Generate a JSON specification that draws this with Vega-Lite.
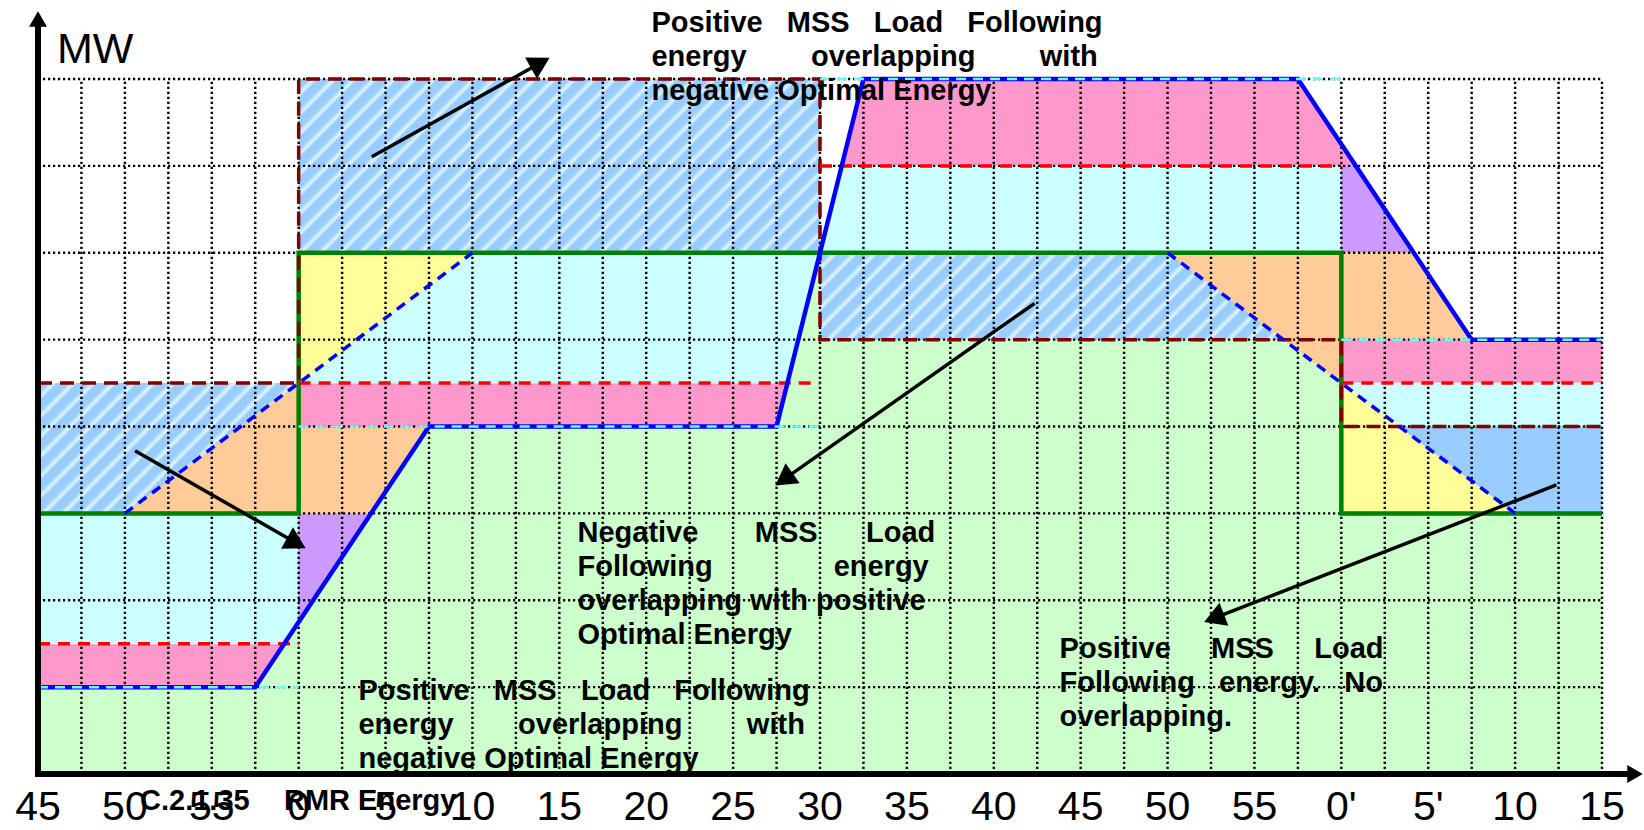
{
"$schema": "https://vega.github.io/schema/vega-lite/v6.json",
"width": 1564,
"height": 695,
"autosize": {"type": "none"},
"padding": {"left": 38, "top": 79, "right": 42, "bottom": 56},
"background": "#ffffff",
"config": {"view": {"stroke": null}},
"datasets": {
"zones": [
{"r":"g","k":"base","c":0,"y":1,"y2":0},{"r":"g","k":"base","c":5,"y":1,"y2":0},{"r":"g","k":"base","c":9,"y":4,"y2":0},{"r":"g","k":"base","c":17,"y":4,"y2":0},{"r":"g","k":"base","c":18,"y":6,"y2":0},{"r":"g","k":"base","c":18.0001,"y":5,"y2":0},{"r":"g","k":"base","c":28.667,"y":5,"y2":0},{"r":"g","k":"base","c":30,"y":4.5,"y2":0},{"r":"g","k":"base","c":30.0001,"y":3,"y2":0},{"r":"g","k":"base","c":36,"y":3,"y2":0},
{"r":"pL","k":"band","c":0,"y":1.5,"y2":1},{"r":"pL","k":"band","c":5,"y":1.5,"y2":1},{"r":"pL","k":"band","c":5.667,"y":1.5,"y2":1.5},
{"r":"cL","k":"gap","c":0,"y":3,"y2":1.5},{"r":"cL","k":"gap","c":5.667,"y":3,"y2":1.5},{"r":"cL","k":"gap","c":6,"y":3,"y2":1.75},
{"r":"vL","k":"deficit","c":6,"y":3,"y2":1.75},{"r":"vL","k":"deficit","c":7.667,"y":3,"y2":3},
{"r":"oL1","k":"overlap","c":2,"y":3,"y2":3},{"r":"oL1","k":"overlap","c":6,"y":4.5,"y2":3},
{"r":"oL2","k":"overlap","c":6,"y":4,"y2":3},{"r":"oL2","k":"overlap","c":7.667,"y":4,"y2":3},{"r":"oL2","k":"overlap","c":9,"y":4,"y2":4},
{"r":"pM","k":"band","c":6,"y":4.5,"y2":4},{"r":"pM","k":"band","c":17,"y":4.5,"y2":4},{"r":"pM","k":"band","c":17.25,"y":4.5,"y2":4.5},
{"r":"cM","k":"gap","c":6,"y":4.5,"y2":4.5},{"r":"cM","k":"gap","c":10,"y":6,"y2":4.5},{"r":"cM","k":"gap","c":17.25,"y":6,"y2":4.5},{"r":"cM","k":"gap","c":18,"y":6,"y2":6},
{"r":"yM","k":"surplus","c":6,"y":6,"y2":4.5},{"r":"yM","k":"surplus","c":10,"y":6,"y2":6},
{"r":"pT","k":"band","c":18.5,"y":7,"y2":7},{"r":"pT","k":"band","c":19,"y":8,"y2":7},{"r":"pT","k":"band","c":29,"y":8,"y2":7},{"r":"pT","k":"band","c":30.333,"y":7,"y2":7},
{"r":"cT","k":"gap","c":18,"y":6,"y2":6},{"r":"cT","k":"gap","c":18.5,"y":7,"y2":6},{"r":"cT","k":"gap","c":30,"y":7,"y2":6},
{"r":"vR","k":"deficit","c":30,"y":7,"y2":6},{"r":"vR","k":"deficit","c":30.333,"y":7,"y2":6},{"r":"vR","k":"deficit","c":31.667,"y":6,"y2":6},
{"r":"oR1","k":"overlap","c":26,"y":6,"y2":6},{"r":"oR1","k":"overlap","c":30,"y":6,"y2":4.5},
{"r":"oR2","k":"overlap","c":30,"y":6,"y2":5},{"r":"oR2","k":"overlap","c":31.667,"y":6,"y2":5},{"r":"oR2","k":"overlap","c":33,"y":5,"y2":5},
{"r":"pR","k":"band","c":30,"y":5,"y2":4.5},{"r":"pR","k":"band","c":36,"y":5,"y2":4.5},
{"r":"cR","k":"gap","c":30,"y":4.5,"y2":4.5},{"r":"cR","k":"gap","c":31.333,"y":4.5,"y2":4},{"r":"cR","k":"gap","c":36,"y":4.5,"y2":4},
{"r":"yR","k":"surplus","c":30,"y":4.5,"y2":3},{"r":"yR","k":"surplus","c":34,"y":3,"y2":3},
{"r":"bR","k":"reserve","c":31.333,"y":4,"y2":4},{"r":"bR","k":"reserve","c":34,"y":4,"y2":3},{"r":"bR","k":"reserve","c":36,"y":4,"y2":3}
],
"lines": [
{"s":"mss","g":"a","i":1,"c":0,"y":1},{"s":"mss","g":"a","i":2,"c":5,"y":1},{"s":"mss","g":"a","i":3,"c":9,"y":4},{"s":"mss","g":"a","i":4,"c":17,"y":4},{"s":"mss","g":"a","i":5,"c":19,"y":8},{"s":"mss","g":"a","i":6,"c":29,"y":8},{"s":"mss","g":"a","i":7,"c":33,"y":5},{"s":"mss","g":"a","i":8,"c":36,"y":5},
{"s":"rmr","g":"a","i":1,"c":0,"y":1},{"s":"rmr","g":"a","i":2,"c":6,"y":1},
{"s":"rmr","g":"b","i":1,"c":6,"y":4},{"s":"rmr","g":"b","i":2,"c":18,"y":4},
{"s":"rmr","g":"c","i":1,"c":18,"y":8},{"s":"rmr","g":"c","i":2,"c":30,"y":8},
{"s":"rmr","g":"d","i":1,"c":30,"y":5},{"s":"rmr","g":"d","i":2,"c":36,"y":5},
{"s":"opt","g":"a","i":1,"c":0,"y":3},{"s":"opt","g":"a","i":2,"c":6,"y":3},{"s":"opt","g":"a","i":3,"c":6,"y":6},{"s":"opt","g":"a","i":4,"c":30,"y":6},{"s":"opt","g":"a","i":5,"c":30,"y":3},{"s":"opt","g":"a","i":6,"c":36,"y":3},
{"s":"ramp","g":"a","i":1,"c":2,"y":3},{"s":"ramp","g":"a","i":2,"c":10,"y":6},
{"s":"ramp","g":"b","i":1,"c":26,"y":6},{"s":"ramp","g":"b","i":2,"c":34,"y":3},
{"s":"upper","g":"a","i":1,"c":0,"y":1.5},{"s":"upper","g":"a","i":2,"c":6,"y":1.5},
{"s":"upper","g":"b","i":1,"c":6,"y":4.5},{"s":"upper","g":"b","i":2,"c":18,"y":4.5},
{"s":"upper","g":"c","i":1,"c":18,"y":7},{"s":"upper","g":"c","i":2,"c":30,"y":7},
{"s":"upper","g":"d","i":1,"c":30,"y":4.5},{"s":"upper","g":"d","i":2,"c":36,"y":4.5},
{"s":"limit","g":"a","i":1,"c":0,"y":4.5},{"s":"limit","g":"a","i":2,"c":6,"y":4.5},{"s":"limit","g":"a","i":3,"c":6,"y":8},{"s":"limit","g":"a","i":4,"c":18,"y":8},{"s":"limit","g":"a","i":5,"c":18,"y":5},{"s":"limit","g":"a","i":6,"c":30,"y":5},{"s":"limit","g":"a","i":7,"c":30,"y":4},{"s":"limit","g":"a","i":8,"c":36,"y":4}
],
"gv": [{"c":1},{"c":2},{"c":3},{"c":4},{"c":5},{"c":6},{"c":7},{"c":8},{"c":9},{"c":10},{"c":11},{"c":12},{"c":13},{"c":14},{"c":15},{"c":16},{"c":17},{"c":18},{"c":19},{"c":20},{"c":21},{"c":22},{"c":23},{"c":24},{"c":25},{"c":26},{"c":27},{"c":28},{"c":29},{"c":30},{"c":31},{"c":32},{"c":33},{"c":34},{"c":35},{"c":36}],
"gh": [{"y":1},{"y":2},{"y":3},{"y":4},{"y":5},{"y":6},{"y":7},{"y":8}],
"ticks": [{"t":"45","c":0},{"t":"50","c":2},{"t":"55","c":4},{"t":"0","c":6},{"t":"5","c":8},{"t":"10","c":10},{"t":"15","c":12},{"t":"20","c":14},{"t":"25","c":16},{"t":"30","c":18},{"t":"35","c":20},{"t":"40","c":22},{"t":"45","c":24},{"t":"50","c":26},{"t":"55","c":28},{"t":"0'","c":30},{"t":"5'","c":32},{"t":"10","c":34},{"t":"15","c":36}],
"arrows": [{"c":7.683,"y":7.106,"c2":11.562,"y2":8.185},{"c":2.233,"y":3.721,"c2":5.946,"y2":2.658},{"c":22.94,"y":5.418,"c2":17.17,"y2":3.392},{"c":34.95,"y":3.327,"c2":27.07,"y2":1.795}],
"notes": [
{"t":"Positive\u00a0\u00a0\u00a0MSS\u00a0\u00a0\u00a0Load\u00a0\u00a0\u00a0Following\nenergy\u00a0\u00a0\u00a0\u00a0\u00a0\u00a0\u00a0\u00a0overlapping\u00a0\u00a0\u00a0\u00a0\u00a0\u00a0\u00a0\u00a0with\nnegative Optimal Energy","c":14.12,"y":8.545},
{"t":"Positive\u00a0\u00a0\u00a0MSS\u00a0\u00a0\u00a0Load\u00a0\u00a0\u00a0Following\nenergy\u00a0\u00a0\u00a0\u00a0\u00a0\u00a0\u00a0\u00a0overlapping\u00a0\u00a0\u00a0\u00a0\u00a0\u00a0\u00a0\u00a0with\nnegative Optimal Energy","c":7.377,"y":0.852},
{"t":"Negative\u00a0\u00a0\u00a0\u00a0\u00a0\u00a0\u00a0MSS\u00a0\u00a0\u00a0\u00a0\u00a0\u00a0Load\nFollowing\u00a0\u00a0\u00a0\u00a0\u00a0\u00a0\u00a0\u00a0\u00a0\u00a0\u00a0\u00a0\u00a0\u00a0\u00a0energy\noverlapping with positive\nOptimal Energy","c":12.418,"y":2.674},
{"t":"Positive\u00a0\u00a0\u00a0\u00a0\u00a0MSS\u00a0\u00a0\u00a0\u00a0\u00a0Load\nFollowing\u00a0\u00a0\u00a0energy.\u00a0\u00a0\u00a0No\noverlapping.","c":23.515,"y":1.332},
{"t":"C.2.1.35","c":2.348,"y":-0.414},
{"t":"RMR Energy","c":5.662,"y":-0.414}
]
},
"layer": [
{"data":{"name":"zones"},
 "mark":{"type":"area","strokeWidth":1,"opacity":1},
 "encoding":{
  "x":{"field":"c","type":"quantitative","scale":{"domain":[0,36],"nice":false,"zero":false},"axis":null},
  "y":{"field":"y","type":"quantitative","scale":{"domain":[0,8],"nice":false,"zero":false},"axis":null,"stack":null},
  "y2":{"field":"y2"},
  "color":{"field":"k","type":"nominal","scale":{"domain":["base","band","gap","overlap","surplus","deficit","reserve"],"range":["#ccffcc","#ff99cc","#ccffff","#ffcc99","#ffff99","#cc99ff","#99ccff"]},"legend":null},
  "stroke":{"field":"k","type":"nominal","scale":{"domain":["base","band","gap","overlap","surplus","deficit","reserve"],"range":["#ccffcc","#ff99cc","#ccffff","#ffcc99","#ffff99","#cc99ff","#99ccff"]},"legend":null},
  "detail":{"field":"r"}
 }},
{"data":{"values":[{"c":0,"y":4.5,"y2":3},{"c":2,"y":4.5,"y2":3},{"c":6,"y":4.5,"y2":4.5}]},
 "mark":{"type":"area","opacity":1,"fill":{"gradient":"linear","x1":0,"y1":0,"x2":2.148,"y2":1.0738,"stops":[{"offset":0,"color":"#9cf"},{"offset":0.0143,"color":"#9cf"},{"offset":0.0229,"color":"#e0f6ff"},{"offset":0.0286,"color":"#9cf"},{"offset":0.0429,"color":"#9cf"},{"offset":0.0514,"color":"#e0f6ff"},{"offset":0.0571,"color":"#9cf"},{"offset":0.0714,"color":"#9cf"},{"offset":0.08,"color":"#e0f6ff"},{"offset":0.0857,"color":"#9cf"},{"offset":0.1,"color":"#9cf"},{"offset":0.1086,"color":"#e0f6ff"},{"offset":0.1143,"color":"#9cf"},{"offset":0.1286,"color":"#9cf"},{"offset":0.1371,"color":"#e0f6ff"},{"offset":0.1429,"color":"#9cf"},{"offset":0.1571,"color":"#9cf"},{"offset":0.1657,"color":"#e0f6ff"},{"offset":0.1714,"color":"#9cf"},{"offset":0.1857,"color":"#9cf"},{"offset":0.1943,"color":"#e0f6ff"},{"offset":0.2,"color":"#9cf"},{"offset":0.2143,"color":"#9cf"},{"offset":0.2229,"color":"#e0f6ff"},{"offset":0.2286,"color":"#9cf"},{"offset":0.2429,"color":"#9cf"},{"offset":0.2514,"color":"#e0f6ff"},{"offset":0.2571,"color":"#9cf"},{"offset":0.2714,"color":"#9cf"},{"offset":0.28,"color":"#e0f6ff"},{"offset":0.2857,"color":"#9cf"},{"offset":0.3,"color":"#9cf"},{"offset":0.3086,"color":"#e0f6ff"},{"offset":0.3143,"color":"#9cf"},{"offset":0.3286,"color":"#9cf"},{"offset":0.3371,"color":"#e0f6ff"},{"offset":0.3429,"color":"#9cf"},{"offset":0.3571,"color":"#9cf"},{"offset":0.3657,"color":"#e0f6ff"},{"offset":0.3714,"color":"#9cf"},{"offset":0.3857,"color":"#9cf"},{"offset":0.3943,"color":"#e0f6ff"},{"offset":0.4,"color":"#9cf"},{"offset":0.4143,"color":"#9cf"},{"offset":0.4229,"color":"#e0f6ff"},{"offset":0.4286,"color":"#9cf"},{"offset":0.4429,"color":"#9cf"},{"offset":0.4514,"color":"#e0f6ff"},{"offset":0.4571,"color":"#9cf"},{"offset":0.4714,"color":"#9cf"},{"offset":0.48,"color":"#e0f6ff"},{"offset":0.4857,"color":"#9cf"},{"offset":0.5,"color":"#9cf"},{"offset":0.5086,"color":"#e0f6ff"},{"offset":0.5143,"color":"#9cf"},{"offset":0.5286,"color":"#9cf"},{"offset":0.5371,"color":"#e0f6ff"},{"offset":0.5429,"color":"#9cf"},{"offset":0.5571,"color":"#9cf"},{"offset":0.5657,"color":"#e0f6ff"},{"offset":0.5714,"color":"#9cf"},{"offset":0.5857,"color":"#9cf"},{"offset":0.5943,"color":"#e0f6ff"},{"offset":0.6,"color":"#9cf"},{"offset":0.6143,"color":"#9cf"},{"offset":0.6229,"color":"#e0f6ff"},{"offset":0.6286,"color":"#9cf"},{"offset":0.6429,"color":"#9cf"},{"offset":0.6514,"color":"#e0f6ff"},{"offset":0.6571,"color":"#9cf"},{"offset":0.6714,"color":"#9cf"},{"offset":0.68,"color":"#e0f6ff"},{"offset":0.6857,"color":"#9cf"},{"offset":0.7,"color":"#9cf"},{"offset":0.7086,"color":"#e0f6ff"},{"offset":0.7143,"color":"#9cf"},{"offset":0.7286,"color":"#9cf"},{"offset":0.7371,"color":"#e0f6ff"},{"offset":0.7429,"color":"#9cf"},{"offset":0.7571,"color":"#9cf"},{"offset":0.7657,"color":"#e0f6ff"},{"offset":0.7714,"color":"#9cf"},{"offset":0.7857,"color":"#9cf"},{"offset":0.7943,"color":"#e0f6ff"},{"offset":0.8,"color":"#9cf"},{"offset":0.8143,"color":"#9cf"},{"offset":0.8229,"color":"#e0f6ff"},{"offset":0.8286,"color":"#9cf"},{"offset":0.8429,"color":"#9cf"},{"offset":0.8514,"color":"#e0f6ff"},{"offset":0.8571,"color":"#9cf"},{"offset":0.8714,"color":"#9cf"},{"offset":0.88,"color":"#e0f6ff"},{"offset":0.8857,"color":"#9cf"},{"offset":0.9,"color":"#9cf"},{"offset":0.9086,"color":"#e0f6ff"},{"offset":0.9143,"color":"#9cf"},{"offset":0.9286,"color":"#9cf"},{"offset":0.9371,"color":"#e0f6ff"},{"offset":0.9429,"color":"#9cf"},{"offset":0.9571,"color":"#9cf"},{"offset":0.9657,"color":"#e0f6ff"},{"offset":0.9714,"color":"#9cf"},{"offset":0.9857,"color":"#9cf"},{"offset":0.9943,"color":"#e0f6ff"},{"offset":1,"color":"#9cf"}]}},
 "encoding":{"x":{"field":"c","type":"quantitative","axis":null},"y":{"field":"y","type":"quantitative","axis":null},"y2":{"field":"y2"}}},
{"data":{"values":[{"c":6,"y":8,"y2":6},{"c":18,"y":8,"y2":6}]},
 "mark":{"type":"area","opacity":1,"fill":{"gradient":"linear","x1":0,"y1":0,"x2":1.2085,"y2":0.4028,"stops":[{"offset":0,"color":"#9cf"},{"offset":0.0143,"color":"#9cf"},{"offset":0.0229,"color":"#e0f6ff"},{"offset":0.0286,"color":"#9cf"},{"offset":0.0429,"color":"#9cf"},{"offset":0.0514,"color":"#e0f6ff"},{"offset":0.0571,"color":"#9cf"},{"offset":0.0714,"color":"#9cf"},{"offset":0.08,"color":"#e0f6ff"},{"offset":0.0857,"color":"#9cf"},{"offset":0.1,"color":"#9cf"},{"offset":0.1086,"color":"#e0f6ff"},{"offset":0.1143,"color":"#9cf"},{"offset":0.1286,"color":"#9cf"},{"offset":0.1371,"color":"#e0f6ff"},{"offset":0.1429,"color":"#9cf"},{"offset":0.1571,"color":"#9cf"},{"offset":0.1657,"color":"#e0f6ff"},{"offset":0.1714,"color":"#9cf"},{"offset":0.1857,"color":"#9cf"},{"offset":0.1943,"color":"#e0f6ff"},{"offset":0.2,"color":"#9cf"},{"offset":0.2143,"color":"#9cf"},{"offset":0.2229,"color":"#e0f6ff"},{"offset":0.2286,"color":"#9cf"},{"offset":0.2429,"color":"#9cf"},{"offset":0.2514,"color":"#e0f6ff"},{"offset":0.2571,"color":"#9cf"},{"offset":0.2714,"color":"#9cf"},{"offset":0.28,"color":"#e0f6ff"},{"offset":0.2857,"color":"#9cf"},{"offset":0.3,"color":"#9cf"},{"offset":0.3086,"color":"#e0f6ff"},{"offset":0.3143,"color":"#9cf"},{"offset":0.3286,"color":"#9cf"},{"offset":0.3371,"color":"#e0f6ff"},{"offset":0.3429,"color":"#9cf"},{"offset":0.3571,"color":"#9cf"},{"offset":0.3657,"color":"#e0f6ff"},{"offset":0.3714,"color":"#9cf"},{"offset":0.3857,"color":"#9cf"},{"offset":0.3943,"color":"#e0f6ff"},{"offset":0.4,"color":"#9cf"},{"offset":0.4143,"color":"#9cf"},{"offset":0.4229,"color":"#e0f6ff"},{"offset":0.4286,"color":"#9cf"},{"offset":0.4429,"color":"#9cf"},{"offset":0.4514,"color":"#e0f6ff"},{"offset":0.4571,"color":"#9cf"},{"offset":0.4714,"color":"#9cf"},{"offset":0.48,"color":"#e0f6ff"},{"offset":0.4857,"color":"#9cf"},{"offset":0.5,"color":"#9cf"},{"offset":0.5086,"color":"#e0f6ff"},{"offset":0.5143,"color":"#9cf"},{"offset":0.5286,"color":"#9cf"},{"offset":0.5371,"color":"#e0f6ff"},{"offset":0.5429,"color":"#9cf"},{"offset":0.5571,"color":"#9cf"},{"offset":0.5657,"color":"#e0f6ff"},{"offset":0.5714,"color":"#9cf"},{"offset":0.5857,"color":"#9cf"},{"offset":0.5943,"color":"#e0f6ff"},{"offset":0.6,"color":"#9cf"},{"offset":0.6143,"color":"#9cf"},{"offset":0.6229,"color":"#e0f6ff"},{"offset":0.6286,"color":"#9cf"},{"offset":0.6429,"color":"#9cf"},{"offset":0.6514,"color":"#e0f6ff"},{"offset":0.6571,"color":"#9cf"},{"offset":0.6714,"color":"#9cf"},{"offset":0.68,"color":"#e0f6ff"},{"offset":0.6857,"color":"#9cf"},{"offset":0.7,"color":"#9cf"},{"offset":0.7086,"color":"#e0f6ff"},{"offset":0.7143,"color":"#9cf"},{"offset":0.7286,"color":"#9cf"},{"offset":0.7371,"color":"#e0f6ff"},{"offset":0.7429,"color":"#9cf"},{"offset":0.7571,"color":"#9cf"},{"offset":0.7657,"color":"#e0f6ff"},{"offset":0.7714,"color":"#9cf"},{"offset":0.7857,"color":"#9cf"},{"offset":0.7943,"color":"#e0f6ff"},{"offset":0.8,"color":"#9cf"},{"offset":0.8143,"color":"#9cf"},{"offset":0.8229,"color":"#e0f6ff"},{"offset":0.8286,"color":"#9cf"},{"offset":0.8429,"color":"#9cf"},{"offset":0.8514,"color":"#e0f6ff"},{"offset":0.8571,"color":"#9cf"},{"offset":0.8714,"color":"#9cf"},{"offset":0.88,"color":"#e0f6ff"},{"offset":0.8857,"color":"#9cf"},{"offset":0.9,"color":"#9cf"},{"offset":0.9086,"color":"#e0f6ff"},{"offset":0.9143,"color":"#9cf"},{"offset":0.9286,"color":"#9cf"},{"offset":0.9371,"color":"#e0f6ff"},{"offset":0.9429,"color":"#9cf"},{"offset":0.9571,"color":"#9cf"},{"offset":0.9657,"color":"#e0f6ff"},{"offset":0.9714,"color":"#9cf"},{"offset":0.9857,"color":"#9cf"},{"offset":0.9943,"color":"#e0f6ff"},{"offset":1,"color":"#9cf"}]}},
 "encoding":{"x":{"field":"c","type":"quantitative","axis":null},"y":{"field":"y","type":"quantitative","axis":null},"y2":{"field":"y2"}}},
{"data":{"values":[{"c":18,"y":6,"y2":5},{"c":26,"y":6,"y2":5},{"c":28.667,"y":5,"y2":5}]},
 "mark":{"type":"area","opacity":1,"fill":{"gradient":"linear","x1":0,"y1":0,"x2":1.4593,"y2":0.2736,"stops":[{"offset":0,"color":"#9cf"},{"offset":0.0143,"color":"#9cf"},{"offset":0.0229,"color":"#e0f6ff"},{"offset":0.0286,"color":"#9cf"},{"offset":0.0429,"color":"#9cf"},{"offset":0.0514,"color":"#e0f6ff"},{"offset":0.0571,"color":"#9cf"},{"offset":0.0714,"color":"#9cf"},{"offset":0.08,"color":"#e0f6ff"},{"offset":0.0857,"color":"#9cf"},{"offset":0.1,"color":"#9cf"},{"offset":0.1086,"color":"#e0f6ff"},{"offset":0.1143,"color":"#9cf"},{"offset":0.1286,"color":"#9cf"},{"offset":0.1371,"color":"#e0f6ff"},{"offset":0.1429,"color":"#9cf"},{"offset":0.1571,"color":"#9cf"},{"offset":0.1657,"color":"#e0f6ff"},{"offset":0.1714,"color":"#9cf"},{"offset":0.1857,"color":"#9cf"},{"offset":0.1943,"color":"#e0f6ff"},{"offset":0.2,"color":"#9cf"},{"offset":0.2143,"color":"#9cf"},{"offset":0.2229,"color":"#e0f6ff"},{"offset":0.2286,"color":"#9cf"},{"offset":0.2429,"color":"#9cf"},{"offset":0.2514,"color":"#e0f6ff"},{"offset":0.2571,"color":"#9cf"},{"offset":0.2714,"color":"#9cf"},{"offset":0.28,"color":"#e0f6ff"},{"offset":0.2857,"color":"#9cf"},{"offset":0.3,"color":"#9cf"},{"offset":0.3086,"color":"#e0f6ff"},{"offset":0.3143,"color":"#9cf"},{"offset":0.3286,"color":"#9cf"},{"offset":0.3371,"color":"#e0f6ff"},{"offset":0.3429,"color":"#9cf"},{"offset":0.3571,"color":"#9cf"},{"offset":0.3657,"color":"#e0f6ff"},{"offset":0.3714,"color":"#9cf"},{"offset":0.3857,"color":"#9cf"},{"offset":0.3943,"color":"#e0f6ff"},{"offset":0.4,"color":"#9cf"},{"offset":0.4143,"color":"#9cf"},{"offset":0.4229,"color":"#e0f6ff"},{"offset":0.4286,"color":"#9cf"},{"offset":0.4429,"color":"#9cf"},{"offset":0.4514,"color":"#e0f6ff"},{"offset":0.4571,"color":"#9cf"},{"offset":0.4714,"color":"#9cf"},{"offset":0.48,"color":"#e0f6ff"},{"offset":0.4857,"color":"#9cf"},{"offset":0.5,"color":"#9cf"},{"offset":0.5086,"color":"#e0f6ff"},{"offset":0.5143,"color":"#9cf"},{"offset":0.5286,"color":"#9cf"},{"offset":0.5371,"color":"#e0f6ff"},{"offset":0.5429,"color":"#9cf"},{"offset":0.5571,"color":"#9cf"},{"offset":0.5657,"color":"#e0f6ff"},{"offset":0.5714,"color":"#9cf"},{"offset":0.5857,"color":"#9cf"},{"offset":0.5943,"color":"#e0f6ff"},{"offset":0.6,"color":"#9cf"},{"offset":0.6143,"color":"#9cf"},{"offset":0.6229,"color":"#e0f6ff"},{"offset":0.6286,"color":"#9cf"},{"offset":0.6429,"color":"#9cf"},{"offset":0.6514,"color":"#e0f6ff"},{"offset":0.6571,"color":"#9cf"},{"offset":0.6714,"color":"#9cf"},{"offset":0.68,"color":"#e0f6ff"},{"offset":0.6857,"color":"#9cf"},{"offset":0.7,"color":"#9cf"},{"offset":0.7086,"color":"#e0f6ff"},{"offset":0.7143,"color":"#9cf"},{"offset":0.7286,"color":"#9cf"},{"offset":0.7371,"color":"#e0f6ff"},{"offset":0.7429,"color":"#9cf"},{"offset":0.7571,"color":"#9cf"},{"offset":0.7657,"color":"#e0f6ff"},{"offset":0.7714,"color":"#9cf"},{"offset":0.7857,"color":"#9cf"},{"offset":0.7943,"color":"#e0f6ff"},{"offset":0.8,"color":"#9cf"},{"offset":0.8143,"color":"#9cf"},{"offset":0.8229,"color":"#e0f6ff"},{"offset":0.8286,"color":"#9cf"},{"offset":0.8429,"color":"#9cf"},{"offset":0.8514,"color":"#e0f6ff"},{"offset":0.8571,"color":"#9cf"},{"offset":0.8714,"color":"#9cf"},{"offset":0.88,"color":"#e0f6ff"},{"offset":0.8857,"color":"#9cf"},{"offset":0.9,"color":"#9cf"},{"offset":0.9086,"color":"#e0f6ff"},{"offset":0.9143,"color":"#9cf"},{"offset":0.9286,"color":"#9cf"},{"offset":0.9371,"color":"#e0f6ff"},{"offset":0.9429,"color":"#9cf"},{"offset":0.9571,"color":"#9cf"},{"offset":0.9657,"color":"#e0f6ff"},{"offset":0.9714,"color":"#9cf"},{"offset":0.9857,"color":"#9cf"},{"offset":0.9943,"color":"#e0f6ff"},{"offset":1,"color":"#9cf"}]}},
 "encoding":{"x":{"field":"c","type":"quantitative","axis":null},"y":{"field":"y","type":"quantitative","axis":null},"y2":{"field":"y2"}}},
{"data":{"name":"gv"},
 "mark":{"type":"rule","color":"#000000","strokeWidth":2.4,"strokeDash":[2.2,2.8]},
 "encoding":{"x":{"field":"c","type":"quantitative","axis":null},"y":{"datum":0,"axis":null},"y2":{"datum":8}}},
{"data":{"name":"gh"},
 "mark":{"type":"rule","color":"#000000","strokeWidth":2.4,"strokeDash":[2.2,2.8]},
 "encoding":{"y":{"field":"y","type":"quantitative","axis":null},"x":{"datum":0,"axis":null},"x2":{"datum":36}}},
{"data":{"name":"lines"},"transform":[{"filter":"datum.s == 'opt'"}],
 "mark":{"type":"line","color":"#008000","strokeWidth":4.5,"opacity":1},
 "encoding":{"x":{"field":"c","type":"quantitative","axis":null},"y":{"field":"y","type":"quantitative","axis":null},"detail":{"field":"g"},"order":{"field":"i","type":"quantitative"}}},
{"data":{"name":"lines"},"transform":[{"filter":"datum.s == 'limit'"}],
 "mark":{"type":"line","color":"#800000","strokeWidth":3.5,"strokeDash":[14,8],"opacity":1},
 "encoding":{"x":{"field":"c","type":"quantitative","axis":null},"y":{"field":"y","type":"quantitative","axis":null},"detail":{"field":"g"},"order":{"field":"i","type":"quantitative"}}},
{"data":{"name":"lines"},"transform":[{"filter":"datum.s == 'upper'"}],
 "mark":{"type":"line","color":"#ff0000","strokeWidth":3.5,"strokeDash":[12,8],"opacity":1},
 "encoding":{"x":{"field":"c","type":"quantitative","axis":null},"y":{"field":"y","type":"quantitative","axis":null},"detail":{"field":"g"},"order":{"field":"i","type":"quantitative"}}},
{"data":{"name":"lines"},"transform":[{"filter":"datum.s == 'ramp'"}],
 "mark":{"type":"line","color":"#0000ff","strokeWidth":3.5,"strokeDash":[10,7],"opacity":1},
 "encoding":{"x":{"field":"c","type":"quantitative","axis":null},"y":{"field":"y","type":"quantitative","axis":null},"detail":{"field":"g"},"order":{"field":"i","type":"quantitative"}}},
{"data":{"name":"lines"},"transform":[{"filter":"datum.s == 'mss'"}],
 "mark":{"type":"line","color":"#0000ff","strokeWidth":4.5,"opacity":1},
 "encoding":{"x":{"field":"c","type":"quantitative","axis":null},"y":{"field":"y","type":"quantitative","axis":null},"detail":{"field":"g"},"order":{"field":"i","type":"quantitative"}}},
{"data":{"name":"lines"},"transform":[{"filter":"datum.s == 'rmr'"}],
 "mark":{"type":"line","color":"#66ffff","strokeWidth":2.5,"strokeDash":[10,7],"opacity":1},
 "encoding":{"x":{"field":"c","type":"quantitative","axis":null},"y":{"field":"y","type":"quantitative","axis":null},"detail":{"field":"g"},"order":{"field":"i","type":"quantitative"}}},
{"data":{"name":"arrows"},
 "mark":{"type":"rule","color":"#000000","strokeWidth":3.5},
 "encoding":{"x":{"field":"c","type":"quantitative","axis":null},"y":{"field":"y","type":"quantitative","axis":null},"x2":{"field":"c2"},"y2":{"field":"y2"}}},
{"data":{"values":[{}]},"mark":{"type":"point","shape":"triangle-right","filled":true,"color":"#000000","opacity":1,"size":600,"angle":330.8},
 "encoding":{"x":{"datum":11.562,"axis":null},"y":{"datum":8.185,"axis":null}}},
{"data":{"values":[{}]},"mark":{"type":"point","shape":"triangle-right","filled":true,"color":"#000000","opacity":1,"size":600,"angle":28.9},
 "encoding":{"x":{"datum":5.946,"axis":null},"y":{"datum":2.658,"axis":null}}},
{"data":{"values":[{}]},"mark":{"type":"point","shape":"triangle-right","filled":true,"color":"#000000","opacity":1,"size":600,"angle":144.9},
 "encoding":{"x":{"datum":17.17,"axis":null},"y":{"datum":3.392,"axis":null}}},
{"data":{"values":[{}]},"mark":{"type":"point","shape":"triangle-right","filled":true,"color":"#000000","opacity":1,"size":600,"angle":158.8},
 "encoding":{"x":{"datum":27.07,"axis":null},"y":{"datum":1.795,"axis":null}}},
{"data":{"values":[{}]},"mark":{"type":"rule","color":"#000000","strokeWidth":6,"strokeCap":"square"},
 "encoding":{"x":{"datum":0,"axis":null},"x2":{"datum":36.55},"y":{"datum":0,"axis":null}}},
{"data":{"values":[{}]},"mark":{"type":"point","shape":"triangle-right","filled":true,"color":"#000000","opacity":1,"size":320},
 "encoding":{"x":{"datum":36.76,"axis":null},"y":{"datum":0,"axis":null}}},
{"data":{"values":[{}]},"mark":{"type":"rule","color":"#000000","strokeWidth":6,"strokeCap":"square"},
 "encoding":{"x":{"datum":0,"axis":null},"y":{"datum":0,"axis":null},"y2":{"datum":8.6}}},
{"data":{"values":[{}]},"mark":{"type":"point","shape":"triangle-up","filled":true,"color":"#000000","opacity":1,"size":320},
 "encoding":{"x":{"datum":0,"axis":null},"y":{"datum":8.69,"axis":null}}},
{"data":{"name":"ticks"},
 "mark":{"type":"text","align":"center","baseline":"alphabetic","font":"Liberation Sans","fontSize":41,"color":"#000000"},
 "encoding":{"x":{"field":"c","type":"quantitative","axis":null},"y":{"datum":-0.53,"axis":null},"text":{"field":"t"}}},
{"data":{"name":"notes"},
 "mark":{"type":"text","align":"left","baseline":"alphabetic","font":"Liberation Sans","fontWeight":"bold","fontSize":29,"lineBreak":"\n","lineHeight":34,"color":"#000000"},
 "encoding":{"x":{"field":"c","type":"quantitative","axis":null},"y":{"field":"y","type":"quantitative","axis":null},"text":{"field":"t"}}},
{"data":{"values":[{}]},
 "mark":{"type":"text","align":"left","baseline":"alphabetic","font":"Liberation Sans","fontSize":43,"color":"#000000","text":"MW"},
 "encoding":{"x":{"datum":0.437,"axis":null},"y":{"datum":8.181,"axis":null}}}
]
}
